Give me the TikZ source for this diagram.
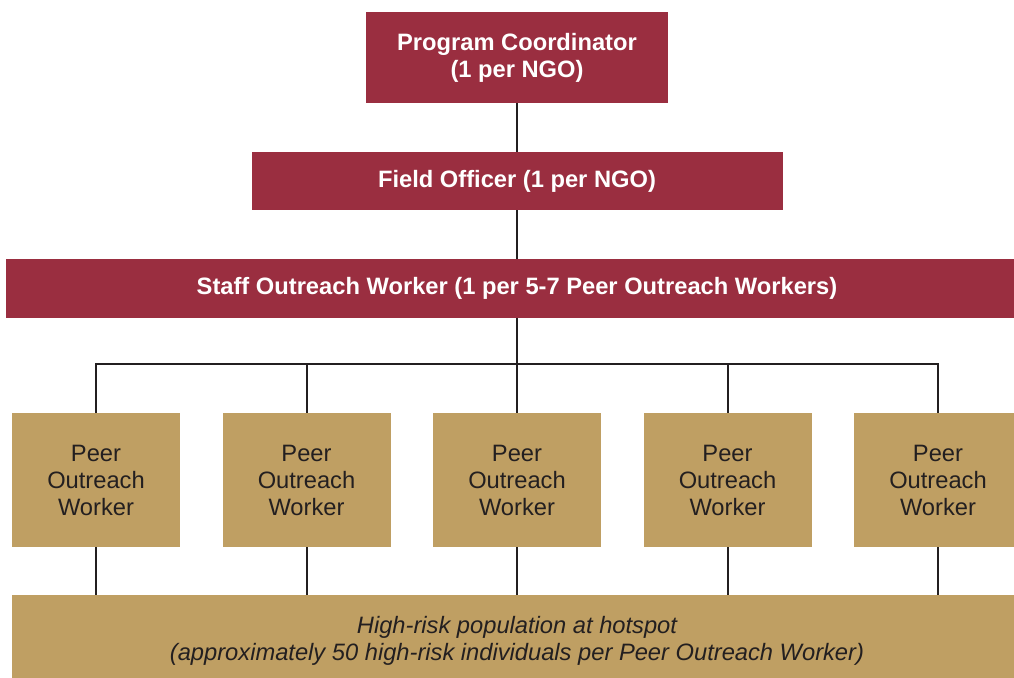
\documentclass[tikz,border=0pt]{standalone}
\usepackage{fontspec}
\setmainfont{Liberation Sans}
\definecolor{wine}{RGB}{154,46,64}
\definecolor{sand}{RGB}{191,159,99}
\definecolor{ink}{RGB}{35,31,32}
\begin{document}
\begin{tikzpicture}[x=1pt,y=-1pt,
  box/.style={rectangle,inner sep=0pt,align=center,
    font=\fontsize{23.7}{27}\selectfont},
  staffbox/.style={box,fill=wine,text=white,font=\fontsize{23.7}{27}\selectfont\bfseries},
  peerbox/.style={box,fill=sand,text=ink,minimum width=168pt,minimum height=134pt},
  link/.style={draw=ink,line width=2pt}]
\useasboundingbox (0,0) rectangle (1014,677);
\clip (0,0) rectangle (1014,677);

% management levels
\node[staffbox,minimum width=302pt,minimum height=91pt] (pc) at (517,57.5)
  {Program Coordinator\\(1 per NGO)};
\node[staffbox,minimum width=531pt,minimum height=58pt] (fo) at (517,181)
  {Field Officer (1 per NGO)};
\node[staffbox,minimum width=1022pt,minimum height=59pt] (sow) at (517,288.5)
  {Staff Outreach Worker (1 per 5-7 Peer Outreach Workers)};

% peer outreach workers
\foreach \i in {1,...,5}
  \node[peerbox] (p\i) at ({96+210.5*(\i-1)},480) {Peer\\Outreach\\Worker};

% population served
\node[box,fill=sand,text=ink,minimum width=1010pt,minimum height=91pt,
  font=\fontsize{23.7}{27}\selectfont\itshape] (pop) at (517,640.5)
  {High-risk population at hotspot\\(approximately 50 high-risk individuals per Peer Outreach Worker)};

% connectors
\coordinate (bus) at (517,364);
\draw[link] (pc.south) -- (fo.north);
\draw[link] (fo.south) -- (sow.north);
\draw[link] (sow.south) -- (p3.north);
\draw[link] (p1.north) |- (bus) -| (p5.north);
\foreach \i in {2,4}
  \draw[link] (p\i.north) -- (p\i.north |- bus);
\foreach \i in {1,...,5}
  \draw[link] (p\i.south) -- (p\i.south |- pop.north);
\end{tikzpicture}
\end{document}
